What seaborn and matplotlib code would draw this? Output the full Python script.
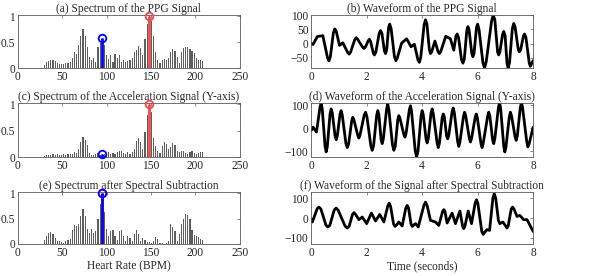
import numpy as np
import matplotlib
matplotlib.use('Agg')
import matplotlib.pyplot as plt
import seaborn as sns

# spectrum bins (BPM)
bpm = np.round(np.linspace(30, 208.3, 75), 2)

spec_ppg = [0.06, 0.12, 0.14, 0.16, 0.16, 0.14, 0.10, 0.07, 0.07, 0.08,
            0.10, 0.10, 0.12, 0.20, 0.30, 0.27, 0.45, 0.62, 0.75, 0.62,
            0.40, 0.22, 0.15, 0.20, 0.12, 0.40, 0.48, 0.58, 0.45, 0.25,
            0.18, 0.25, 0.12, 0.27, 0.20, 0.25, 0.12, 0.15, 0.12, 0.13,
            0.15, 0.20, 0.30, 0.35, 0.42, 0.38, 0.25, 0.55, 0.85, 1.00,
            0.90, 0.62, 0.30, 0.15, 0.10, 0.16, 0.18, 0.15, 0.20, 0.30,
            0.36, 0.32, 0.22, 0.10, 0.30, 0.38, 0.41, 0.40, 0.36, 0.32,
            0.28, 0.20, 0.15, 0.16, 0.14]

spec_acc = [0.02, 0.03, 0.03, 0.04, 0.05, 0.04, 0.06, 0.04, 0.03, 0.05,
            0.04, 0.05, 0.06, 0.05, 0.10, 0.08, 0.15, 0.28, 0.38, 0.33,
            0.22, 0.08, 0.04, 0.03, 0.06, 0.08, 0.04, 0.06, 0.05, 0.07,
            0.10, 0.06, 0.08, 0.05, 0.10, 0.12, 0.11, 0.07, 0.06, 0.09,
            0.05, 0.10, 0.15, 0.30, 0.36, 0.28, 0.15, 0.48, 0.80, 1.00,
            0.85, 0.35, 0.20, 0.12, 0.08, 0.20, 0.29, 0.25, 0.15, 0.18,
            0.26, 0.23, 0.12, 0.10, 0.12, 0.11, 0.08, 0.06, 0.10, 0.11,
            0.08, 0.05, 0.08, 0.09, 0.09]

spec_sub = [0.08, 0.15, 0.21, 0.23, 0.19, 0.12, 0.05, 0.06, 0.03, 0.02,
            0.05, 0.08, 0.10, 0.28, 0.37, 0.35, 0.40, 0.55, 0.68, 0.55,
            0.30, 0.22, 0.30, 0.22, 0.25, 0.50, 0.78, 1.00, 0.62, 0.30,
            0.15, 0.25, 0.27, 0.15, 0.08, 0.25, 0.27, 0.15, 0.05, 0.15,
            0.12, 0.05, 0.20, 0.27, 0.20, 0.05, 0.12, 0.08, 0.03, 0.03,
            0.02, 0.05, 0.13, 0.10, 0.02, 0.01, 0.00, 0.02, 0.05, 0.40,
            0.33, 0.25, 0.05, 0.20, 0.40, 0.50, 0.59, 0.57, 0.50, 0.28,
            0.18, 0.15, 0.14, 0.10, 0.08]

# highlighted peaks (BPM)
hr_ppg = 95.0
hr_acc = 148.0

# waveforms (time in s, amplitude)
ppg_t = [0, 0.07, 0.22, 0.42, 0.59, 0.64, 0.69, 0.80, 0.85, 0.90,
         1.02, 1.14, 1.32, 1.37, 1.42, 1.57, 1.62, 1.67, 1.85, 1.9,
         1.95, 2.06, 2.1, 2.14, 2.24, 2.28, 2.33, 2.45, 2.5, 2.55,
         2.64, 2.68, 2.72, 2.79, 2.83, 2.88, 3.0, 3.05, 3.1, 3.26,
         3.44, 3.6, 3.72, 3.85, 3.9, 3.95, 4.07, 4.12, 4.17, 4.26,
         4.3, 4.34, 4.46, 4.58, 4.62, 4.67, 4.85, 5.02, 5.14, 5.22,
         5.26, 5.31, 5.42, 5.47, 5.52, 5.61, 5.65, 5.69, 5.79, 5.83,
         5.87, 5.96, 6.0, 6.05, 6.19, 6.25, 6.31, 6.5, 6.56, 6.62,
         6.72, 6.76, 6.8, 6.9, 6.94, 6.99, 7.06, 7.1, 7.15, 7.25,
         7.3, 7.35, 7.46, 7.5, 7.55, 7.65, 7.69, 7.74, 7.86, 7.9,
         8.0]
ppg_v = [0, -3, 25, 28, -50, -61, -47, 38, 52, 45,
         -6, 3, -32, -37, -30, 14, 21, 16, -12, -17,
         -13, 11, 15, 8, -33, -40, -30, 36, 46, 36,
         -26, -35, -23, 57, 69, 54, -45, -60, -52, 2,
         17, -11, -2, -58, -66, -48, 66, 84, 70, -21,
         -35, -30, 9, -30, -35, -28, 26, 17, -23, 27,
         34, 22, -57, -69, -54, 47, 60, 49, -35, -46,
         -34, 57, 69, 50, -67, -86, -63, 78, 101, 84,
         -30, -40, -30, 33, 43, 28, -71, -86, -67, 52,
         71, 59, -18, -29, -22, 27, 34, 22, -68, -80,
         -60]

acc_t = [0, 0.07, 0.19, 0.32, 0.36, 0.40, 0.50, 0.54, 0.58, 0.68,
         0.72, 0.76, 0.86, 0.9, 0.94, 1.04, 1.08, 1.12, 1.25, 1.3,
         1.35, 1.46, 1.5, 1.54, 1.68, 1.72, 1.76, 1.91, 1.96, 2.01,
         2.15, 2.2, 2.25, 2.36, 2.4, 2.44, 2.52, 2.56, 2.6, 2.72,
         2.76, 2.8, 2.93, 2.98, 3.03, 3.12, 3.16, 3.2, 3.34, 3.38,
         3.42, 3.54, 3.58, 3.62, 3.75, 3.8, 3.85, 3.96, 4.0, 4.04,
         4.14, 4.18, 4.22, 4.32, 4.36, 4.4, 4.54, 4.58, 4.62, 4.72,
         4.76, 4.8, 4.88, 4.92, 4.96, 5.08, 5.12, 5.16, 5.28, 5.32,
         5.36, 5.49, 5.53, 5.57, 5.7, 5.74, 5.78, 5.91, 5.95, 5.99,
         6.12, 6.16, 6.2, 6.36, 6.4, 6.44, 6.54, 6.58, 6.62, 6.75,
         6.79, 6.83, 6.94, 6.98, 7.02, 7.14, 7.18, 7.22, 7.35, 7.39,
         7.43, 7.54, 7.58, 7.62, 7.77, 7.81, 7.85, 8.0]
acc_v = [-10, 4, -17, 92, 107, 82, -78, -103, -81, 61,
         83, 67, -34, -50, -35, 61, 76, 57, -65, -84,
         -68, 31, 47, 36, -32, -43, -30, 56, 69, 49,
         -76, -96, -75, 55, 76, 59, -50, -67, -47, 84,
         104, 80, -72, -96, -78, 36, 54, 43, -28, -39,
         -23, 81, 97, 71, -98, -124, -100, 52, 76, 59,
         -47, -64, -46, 65, 83, 63, -64, -84, -67, 44,
         61, 48, -33, -46, -30, 71, 87, 67, -59, -79,
         -61, 51, 69, 53, -44, -60, -45, 46, 61, 44,
         -67, -84, -66, 51, 69, 53, -51, -67, -46, 90,
         111, 85, -77, -103, -82, 48, 69, 54, -38, -53,
         -33, 91, 111, 88, -58, -81, -71, 4]

sub_t = [0, 0.04, 0.22, 0.28, 0.35, 0.53, 0.6, 0.67, 0.83, 0.9,
         0.97, 1.22, 1.3, 1.37, 1.49, 1.54, 1.59, 1.72, 1.84, 2.0,
         2.17, 2.32, 2.47, 2.62, 2.76, 2.81, 2.86, 2.97, 3.02, 3.07,
         3.16, 3.28, 3.41, 3.46, 3.51, 3.6, 3.64, 3.76, 3.86, 4.06,
         4.12, 4.18, 4.3, 4.48, 4.6, 4.74, 4.78, 4.82, 4.9, 5.08,
         5.2, 5.36, 5.46, 5.5, 5.54, 5.66, 5.78, 5.91, 5.96, 6.01,
         6.15, 6.2, 6.25, 6.34, 6.43, 6.55, 6.6, 6.65, 6.75, 6.8,
         6.91, 7.02, 7.06, 7.1, 7.21, 7.26, 7.31, 7.42, 7.52, 7.66,
         7.78, 8.0]
sub_v = [-8, -20, 48, 55, 45, -35, -45, -37, 40, 50,
         40, -40, -50, -40, 18, 27, 20, -8, 5, -28,
         25, -15, 18, -20, 60, 75, 60, -30, -42, -36,
         -20, -40, 50, 63, 50, -30, -42, -28, -45, 62,
         80, 62, -12, -20, -37, 34, 42, 34, -25, 25,
         -28, 35, -42, -53, -42, 35, -28, 75, 92, 72,
         -68, -82, -72, -58, -62, 100, 122, 100, -12, -28,
         -20, -42, -50, -40, 45, 55, 45, 8, 13, -8,
         -8, -67]

sns.set_style('white')
plt.rcParams['font.family'] = ['Liberation Serif', 'DejaVu Serif']
plt.rcParams['font.size'] = 8

RED = '#f04a4a'
BLUE = '#0000ff'
FRAME = '#5a5a5a'

fig = plt.figure(figsize=(5.95, 2.76), dpi=100)

left_x, right_x, w = 0.030, 0.523, 0.373
rows = [(0.7536, 0.192), (0.431, 0.196), (0.116, 0.188)]


def style_axes(ax):
    for s in ax.spines.values():
        s.set_color(FRAME)
        s.set_linewidth(0.6)
    ax.tick_params(direction='in', length=2.5, width=0.5, color=FRAME,
                   top=True, right=True, labelsize=8.3, pad=2)


def value_at(spec, hr):
    return spec[int(np.argmin(np.abs(bpm - hr)))]


def stem(ax, x, h, color):
    ax.vlines(x, 0, h, color=color, lw=2, zorder=3)
    ax.plot([x], [h], marker='o', ms=5.5, mfc='none', mec=color, mew=1.3,
            zorder=4, clip_on=False)


spec_titles = ['(a) Spectrum of the PPG Signal',
               '(c) Spectrum of the Acceleration Signal (Y-axis)',
               '(e) Spectrum after Spectral Subtraction']
wave_titles = ['(b) Waveform of the PPG Signal',
               '(d) Waveform of the Acceleration Signal (Y-axis)',
               '(f) Waveform of the Signal after Spectral Subtraction']

specs = [spec_ppg, spec_acc, spec_sub]
stems = [[(hr_acc, RED), (hr_ppg, BLUE)],
         [(hr_acc, RED), (hr_ppg, BLUE)],
         [(hr_ppg, RED), (hr_ppg, BLUE)]]

waves = [(ppg_t, ppg_v, (min(ppg_v), max(ppg_v)), [-50, 0, 50, 100]),
         (acc_t, acc_v, (-125, 109), [-100, 0, 100]),
         (sub_t, sub_v, (-130, 130), [-100, 0, 100])]

for i, (b, h) in enumerate(rows):
    ax = fig.add_axes([left_x, b, w, h])
    ax.bar(bpm, specs[i], width=1.3, color='#5e5e5e', linewidth=0)
    for x, c in stems[i]:
        stem(ax, x, value_at(specs[i], x), c)
    ax.set_xlim(0, 250)
    ax.set_ylim(0, 1.02)
    ax.set_xticks([0, 50, 100, 150, 200, 250])
    ax.set_xticklabels(['0', '50', '100', '150', '200', '250'])
    ax.set_yticks([0, 0.5, 1])
    ax.set_yticklabels(['0', '0.5', '1'])
    ax.set_title(spec_titles[i], fontsize=8.3, pad=2)
    ax.set_xlabel('Heart Rate (BPM)' if i == 2 else '', fontsize=8.3, labelpad=1)
    style_axes(ax)

    t, v, yl, yt = waves[i]
    ax2 = fig.add_axes([right_x, b, w, h])
    sns.lineplot(x=t, y=v, color='black', lw=2, sort=False, estimator=None, ax=ax2)
    ax2.lines[0].set_solid_joinstyle('round')
    ax2.set_xlim(0, 8)
    ax2.set_ylim(*yl)
    ax2.set_xticks([0, 2, 4, 6, 8])
    ax2.set_yticks(yt)
    ax2.set_title(wave_titles[i], fontsize=8.3, pad=2)
    ax2.set_xlabel('Time (seconds)' if i == 2 else '', fontsize=8.3, labelpad=1)
    ax2.set_ylabel('')
    style_axes(ax2)

fig.savefig('out.png', dpi=100)
